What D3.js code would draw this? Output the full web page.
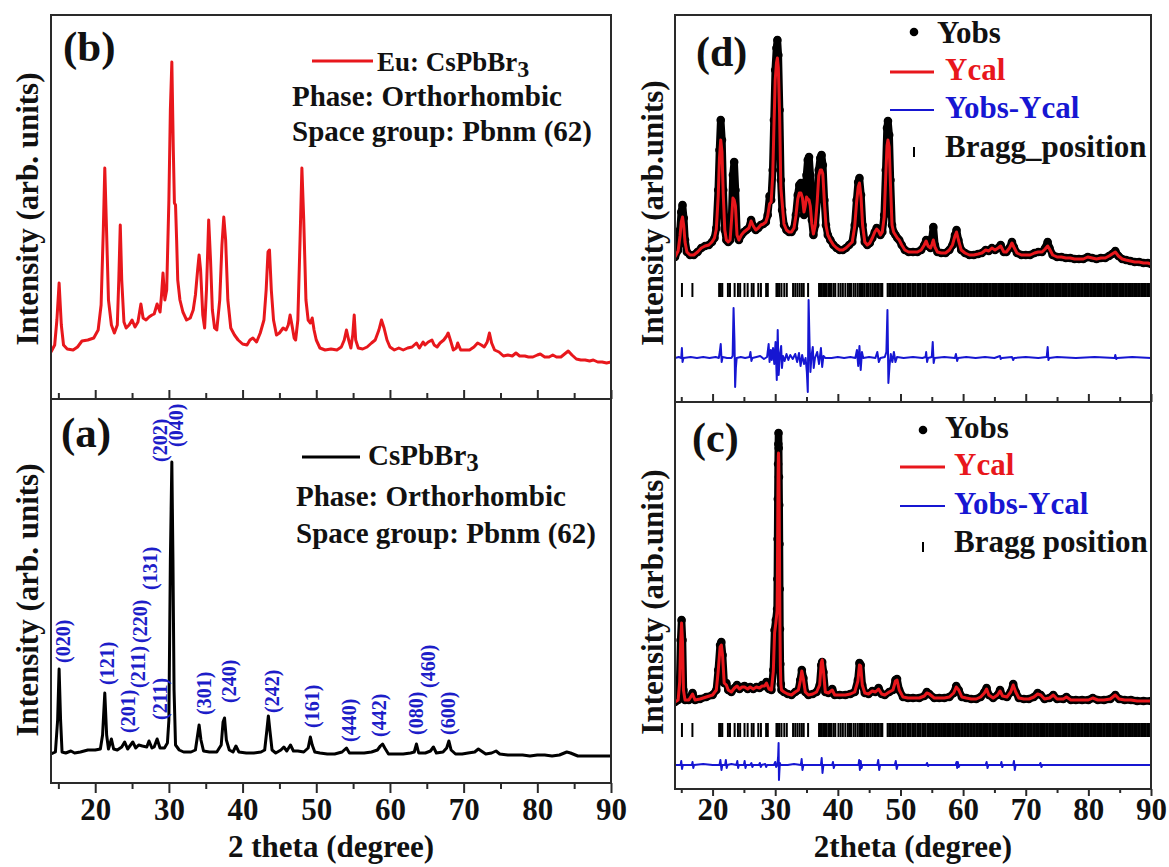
<!DOCTYPE html>
<html>
<head>
<meta charset="utf-8">
<script src="https://cdn.jsdelivr.net/npm/d3@7"></script>
<style>
  html, body { margin: 0; padding: 0; background: #fff; }
  svg text { font-family: "Liberation Serif", "Times New Roman", serif; font-weight: bold; }
</style>
</head>
<body>
<svg id="chart" width="1169" height="867"></svg>
<script>
// ---------------- data (2θ in degrees, intensity in arbitrary units) ----------------

// (b) Eu-doped CsPbBr3 pattern
const euPattern = [
  [14.0,47],[14.5,54],[14.8,79],[15.1,116],[15.4,74],[15.7,54],[16.2,50],[17.0,49],[17.6,52],[18.2,58],
  [19.0,59],[19.8,61],[20.4,69],[20.8,94],[21.1,169],[21.3,231],[21.5,179],[21.8,99],[22.2,74],[22.6,66],
  [23.0,74],[23.2,119],[23.4,174],[23.6,119],[23.9,77],[24.2,71],[24.6,74],[25.0,79],[25.4,72],[25.8,77],
  [26.2,95],[26.5,81],[26.9,79],[27.3,82],[27.7,84],[28.0,85],[28.4,95],[28.8,87],[29.0,104],[29.2,126],
  [29.45,99],[29.7,109],[30.0,199],[30.2,289],[30.4,337],[30.6,249],[30.75,196],[30.9,194],[31.05,159],[31.2,119],
  [31.5,99],[31.9,87],[32.4,79],[32.9,81],[33.3,89],[33.6,104],[33.9,129],[34.1,144],[34.3,129],[34.6,84],
  [34.85,71],[35.1,109],[35.4,179],[35.65,139],[35.9,89],[36.2,71],[36.5,69],[36.9,99],[37.2,154],[37.45,182],
  [37.7,159],[38.0,99],[38.4,71],[38.9,64],[39.4,59],[40.0,55],[40.6,54],[41.0,59],[41.4,61],[41.9,57],
  [42.4,66],[42.9,79],[43.2,109],[43.45,147],[43.65,149],[43.9,109],[44.2,79],[44.6,64],[45.0,66],[45.5,71],
  [45.9,69],[46.2,74],[46.45,84],[46.7,74],[47.0,61],[47.2,59],[47.5,79],[47.8,159],[48.05,231],[48.3,179],
  [48.6,99],[48.9,79],[49.2,76],[49.45,81],[49.7,69],[50.0,59],[50.5,51],[51.2,49],[52.0,50],[52.8,49],
  [53.4,52],[53.8,59],[54.1,69],[54.4,59],[54.7,51],[54.95,64],[55.15,84],[55.35,59],[55.7,51],[56.3,50],
  [56.9,52],[57.5,56],[58.0,59],[58.5,69],[58.85,79],[59.2,71],[59.6,59],[60.0,52],[60.6,49],[61.2,51],
  [61.8,49],[62.4,51],[63.0,52],[63.6,56],[64.0,51],[64.5,57],[64.75,54],[65.2,57],[65.7,59],[66.0,54],
  [66.4,52],[66.8,56],[67.3,59],[67.7,63],[67.9,66],[68.2,59],[68.6,49],[69.0,51],[69.2,56],[69.6,49],
  [70.2,49],[70.8,49],[71.4,52],[71.9,56],[72.4,54],[72.8,52],[73.2,57],[73.5,66],[73.8,56],[74.2,49],
  [74.8,47],[75.4,43],[76.0,44],[76.6,43],[77.1,46],[77.6,43],[78.3,43],[78.8,42],[79.4,42],[80.0,44],
  [80.4,45],[81.0,42],[81.6,42],[82.1,44],[82.6,42],[83.2,42],[83.7,45],[84.2,48],[84.7,44],[85.3,40],
  [85.9,39],[86.5,39],[87.1,38],[87.6,39],[88.2,37],[88.8,37],[89.4,36],[90.0,37]
];

// (a) pristine CsPbBr3 pattern
const csPattern = [
  [14.0,29],[14.6,31],[14.9,63],[15.1,114],[15.3,63],[15.5,31],[16.0,30],[16.7,32],[17.2,30],[18.0,31],
  [19.0,33],[20.0,33],[20.7,34],[21.0,48],[21.3,90],[21.55,48],[21.8,34],[22.2,44],[22.5,34],[23.0,33],
  [23.6,36],[24.0,41],[24.4,34],[25.1,41],[25.5,35],[25.9,38],[26.4,37],[27.0,36],[27.3,42],[27.7,35],
  [28.0,36],[28.4,44],[28.8,35],[29.4,35],[29.8,40],[30.0,63],[30.2,223],[30.4,321],[30.55,223],[30.7,93],
  [30.9,38],[31.4,33],[32.0,31],[33.0,31],[33.6,33],[33.9,48],[34.1,58],[34.35,43],[34.7,32],[35.5,31],
  [36.5,31],[37.1,38],[37.35,61],[37.55,65],[37.8,43],[38.2,33],[38.7,31],[39.1,37],[39.5,31],[40.5,30],
  [41.5,30],[42.5,31],[43.0,33],[43.3,53],[43.5,67],[43.7,53],[44.0,33],[44.5,30],[45.2,33],[45.6,36],
  [46.0,32],[46.5,38],[46.9,32],[47.5,32],[48.3,31],[48.9,35],[49.2,46],[49.45,38],[49.8,31],[50.5,30],
  [51.5,29],[52.5,29],[53.5,31],[54.1,35],[54.5,30],[55.5,30],[56.5,30],[57.5,31],[58.3,33],[58.7,37],
  [59.0,39],[59.3,35],[59.8,29],[60.8,29],[61.8,29],[62.8,30],[63.3,31],[63.6,39],[63.9,30],[64.8,30],
  [65.5,32],[65.9,36],[66.3,30],[67.2,31],[67.7,35],[68.0,42],[68.3,33],[68.9,29],[69.8,29],[70.6,30],
  [71.5,31],[72.0,34],[72.4,32],[73.0,29],[73.8,30],[74.4,32],[74.9,29],[76.0,28],[77.0,28],[78.0,28],
  [79.0,27],[80.0,28],[81.0,28],[82.0,27],[83.0,28],[84.0,31],[84.5,30],[85.5,27],[86.5,27],[87.5,27],
  [88.5,27],[89.3,27],[90.0,27]
];

// Miller indices marked on (a): label, 2θ of the label column, intensity at the label's lower end
const hklNames  = ["(020)","(121)","(201)","(211)","(220)","(131)","(211)","(202)","(040)","(301)","(240)","(242)","(161)","(440)","(442)","(080)","(460)","(600)"];
const hklTheta  = [15.6, 21.6, 24.5, 25.8, 26.1, 27.4, 28.8, 28.8, 30.9, 34.7, 38.2, 44.0, 49.4, 54.5, 58.5, 63.6, 65.2, 67.9];
const hklLevel  = [120, 98, 50, 95, 140, 193, 63, 321, 336, 68, 80, 70, 55, 41, 46, 48, 95, 48];

// (d) Rietveld refinement, Eu: CsPbBr3
const dYobs = [
  [14.0,145],[14.5,152],[14.8,172],[15.0,190],[15.2,197],[15.4,184],[15.6,162],[15.9,150],[16.4,147],[17.0,147],
  [17.6,150],[18.2,154],[18.8,156],[19.4,157],[19.9,160],[20.3,164],[20.6,174],[20.9,212],[21.1,252],[21.3,282],
  [21.5,262],[21.7,212],[21.95,172],[22.2,162],[22.5,160],[22.8,162],[23.05,187],[23.25,227],[23.45,240],[23.65,212],
  [23.9,167],[24.2,162],[24.6,167],[25.0,170],[25.4,172],[25.8,174],[26.15,182],[26.5,176],[26.9,172],[27.3,174],
  [27.7,177],[28.1,178],[28.5,180],[28.8,187],[29.1,206],[29.35,202],[29.6,232],[29.8,282],[30.0,332],[30.2,354],
  [30.35,362],[30.5,347],[30.7,292],[30.9,222],[31.1,192],[31.4,177],[31.8,172],[32.2,170],[32.6,170],[33.0,174],
  [33.3,187],[33.6,207],[33.85,217],[34.1,219],[34.35,207],[34.6,187],[34.8,202],[35.0,227],[35.2,242],[35.4,245],
  [35.6,227],[35.85,182],[36.1,167],[36.4,177],[36.7,202],[36.95,232],[37.2,244],[37.4,247],[37.6,237],[37.85,202],
  [38.1,177],[38.4,167],[38.8,162],[39.3,157],[39.8,154],[40.3,152],[40.8,152],[41.3,154],[41.8,157],[42.3,160],
  [42.7,177],[43.0,202],[43.25,220],[43.45,224],[43.7,207],[43.95,177],[44.3,160],[44.7,157],[45.1,159],[45.5,164],
  [45.9,170],[46.2,174],[46.5,172],[46.8,167],[47.1,170],[47.4,187],[47.65,232],[47.85,274],[48.0,281],[48.2,267],
  [48.4,222],[48.65,177],[48.9,170],[49.2,167],[49.5,164],[49.8,162],[50.2,157],[50.7,152],[51.3,150],[52.0,150],
  [52.7,150],[53.3,152],[53.8,157],[54.1,162],[54.4,156],[54.8,154],[55.05,164],[55.25,175],[55.5,157],[55.9,150],
  [56.5,149],[57.2,149],[57.8,152],[58.3,157],[58.7,167],[58.95,172],[59.25,162],[59.7,152],[60.3,149],[61.0,147],
  [61.7,147],[62.4,148],[63.0,149],[63.6,152],[64.1,151],[64.6,154],[65.1,152],[65.6,154],[66.0,157],[66.5,150],
  [66.9,150],[67.4,154],[67.8,160],[68.1,155],[68.6,149],[69.3,147],[70.0,147],[70.7,147],[71.4,149],[72.0,150],
  [72.6,150],[73.1,154],[73.5,160],[73.8,154],[74.3,147],[75.0,145],[75.7,145],[76.4,144],[77.1,144],[77.8,143],
  [78.5,143],[79.2,143],[79.9,145],[80.6,144],[81.3,143],[82.0,144],[82.7,144],[83.3,146],[83.8,148],[84.3,151],
  [84.8,146],[85.4,143],[86.0,142],[86.7,141],[87.4,140],[88.1,140],[88.8,139],[89.5,139],[90.0,138]
];
const dYcal = [
  [14.0,145],[14.5,151],[14.8,166],[15.0,180],[15.2,185],[15.4,176],[15.6,160],[15.9,150],[16.4,147],[17.0,147],
  [17.6,150],[18.2,154],[18.8,156],[19.4,157],[19.9,160],[20.3,164],[20.6,173],[20.9,206],[21.1,244],[21.3,262],
  [21.5,250],[21.7,208],[21.95,172],[22.2,162],[22.5,160],[22.8,162],[23.05,184],[23.25,204],[23.45,202],[23.65,196],
  [23.9,167],[24.2,162],[24.6,167],[25.0,170],[25.4,172],[25.8,174],[26.15,181],[26.5,176],[26.9,172],[27.3,174],
  [27.7,177],[28.1,178],[28.5,180],[28.8,186],[29.1,198],[29.35,200],[29.6,226],[29.8,276],[30.0,322],[30.2,339],
  [30.35,344],[30.5,334],[30.7,288],[30.9,214],[31.1,200],[31.4,178],[31.8,172],[32.2,170],[32.6,170],[33.0,174],
  [33.3,186],[33.6,203],[33.85,209],[34.1,209],[34.35,204],[34.6,190],[34.8,196],[35.0,205],[35.2,203],[35.4,202],
  [35.6,196],[35.85,178],[36.1,168],[36.4,177],[36.7,200],[36.95,226],[37.2,232],[37.4,232],[37.6,228],[37.85,200],
  [38.1,177],[38.4,167],[38.8,162],[39.3,157],[39.8,154],[40.3,152],[40.8,152],[41.3,154],[41.8,157],[42.3,160],
  [42.7,176],[43.0,200],[43.25,215],[43.45,219],[43.7,205],[43.95,177],[44.3,160],[44.7,157],[45.1,159],[45.5,164],
  [45.9,170],[46.2,173],[46.5,171],[46.8,167],[47.1,170],[47.4,185],[47.65,226],[47.85,256],[48.0,262],[48.2,255],
  [48.4,218],[48.65,177],[48.9,170],[49.2,167],[49.5,164],[49.8,162],[50.2,157],[50.7,152],[51.3,150],[52.0,150],
  [52.7,150],[53.3,152],[53.8,157],[54.1,161],[54.4,156],[54.8,154],[55.05,158],[55.25,162],[55.5,155],[55.9,150],
  [56.5,149],[57.2,149],[57.8,152],[58.3,157],[58.7,166],[58.95,170],[59.25,162],[59.7,152],[60.3,149],[61.0,147],
  [61.7,147],[62.4,148],[63.0,149],[63.6,152],[64.1,151],[64.6,154],[65.1,152],[65.6,154],[66.0,156],[66.5,150],
  [66.9,150],[67.4,154],[67.8,159],[68.1,155],[68.6,149],[69.3,147],[70.0,147],[70.7,147],[71.4,149],[72.0,150],
  [72.6,150],[73.1,153],[73.5,156],[73.8,153],[74.3,147],[75.0,145],[75.7,145],[76.4,144],[77.1,144],[77.8,143],
  [78.5,143],[79.2,143],[79.9,145],[80.6,144],[81.3,143],[82.0,144],[82.7,144],[83.3,146],[83.8,148],[84.3,150],
  [84.8,146],[85.4,143],[86.0,142],[86.7,141],[87.4,140],[88.1,140],[88.8,139],[89.5,139],[90.0,138]
];
const dDiff = [
  [14.0,44],[14.6,45],[15.0,44],[15.1,54],[15.2,40],[15.35,44],[16.5,45],[17.5,44],[18.5,45],[19.5,44],
  [20.5,45],[21.0,44],[21.15,50],[21.3,58],[21.45,40],[21.6,45],[22.3,44],[23.0,44],[23.2,46],[23.35,94],
  [23.5,60],[23.6,15],[23.72,34],[23.85,44],[24.5,45],[25.2,44],[25.9,45],[26.05,50],[26.2,41],[26.35,44],
  [27.0,45],[27.6,46],[28.2,43],[28.7,45],[28.95,58],[29.1,40],[29.3,52],[29.45,42],[29.65,54],[29.85,38],
  [30.05,60],[30.25,22],[30.4,72],[30.55,27],[30.75,47],[30.95,56],[31.08,34],[31.25,46],[31.5,41],[31.8,48],
  [32.1,42],[32.4,47],[32.8,43],[33.2,48],[33.5,40],[33.8,49],[34.05,36],[34.3,47],[34.6,38],[34.85,44],
  [35.05,30],[35.2,10],[35.33,102],[35.48,60],[35.62,30],[35.8,46],[36.0,55],[36.15,34],[36.35,44],[36.7,50],
  [37.0,38],[37.3,54],[37.5,35],[37.7,46],[38.0,44],[39.0,44],[40.0,45],[41.0,44],[42.0,45],[42.8,44],
  [43.05,52],[43.25,36],[43.45,56],[43.65,32],[43.85,50],[44.05,44],[45.0,45],[46.0,44],[46.3,50],[46.55,40],
  [46.8,44],[47.5,45],[47.75,50],[47.92,92],[48.07,19],[48.25,36],[48.45,48],[48.7,40],[48.95,50],[49.2,40],
  [49.45,45],[50.5,44],[52.0,45],[53.5,44],[54.0,45],[54.1,50],[54.25,40],[54.4,44],[55.0,45],[55.15,60],
  [55.3,39],[55.45,44],[57.0,45],[58.7,44],[58.85,48],[59.05,41],[59.2,44],[60.5,45],[62.0,44],[63.5,45],
  [65.0,44],[65.9,46],[66.0,43],[66.2,44],[67.8,45],[68.0,42],[68.15,44],[70.0,45],[72.0,44],[73.35,45],
  [73.5,55],[73.62,42],[73.75,44],[75.0,45],[78.0,44],[81.0,45],[84.2,44],[84.3,47],[84.45,43],[84.6,44],
  [87.0,45],[90.0,44]
];

// (c) Rietveld refinement, CsPbBr3
const cYobs = [
  [14.0,87],[14.5,89],[14.75,109],[14.9,149],[15.05,169],[15.2,149],[15.35,99],[15.6,89],[16.2,89],[16.8,96],
  [17.2,89],[18.0,90],[19.0,92],[20.0,94],[20.6,99],[20.9,119],[21.2,144],[21.4,147],[21.6,134],[21.85,106],
  [22.2,106],[22.5,99],[23.0,97],[23.5,101],[23.9,104],[24.3,100],[24.7,102],[25.1,103],[25.6,100],[26.0,102],
  [26.5,100],[27.0,102],[27.5,101],[27.9,104],[28.3,103],[28.6,107],[29.0,100],[29.4,99],[29.7,119],[29.9,159],
  [30.1,169],[30.3,180],[30.34,210],[30.38,250],[30.42,290],[30.46,325],[30.5,345],[30.53,356],[30.56,341],[30.6,312],
  [30.64,284],[30.68,245],[30.72,200],[30.76,160],[30.82,125],[30.9,105],[31.0,99],[31.4,97],[32.0,95],[32.6,94],
  [33.2,97],[33.7,99],[34.0,109],[34.25,119],[34.5,111],[34.8,97],[35.3,94],[36.0,95],[36.6,97],[37.1,104],
  [37.35,124],[37.5,127],[37.7,117],[38.0,97],[38.5,96],[39.1,100],[39.5,94],[40.3,94],[41.2,94],[42.0,95],
  [42.7,97],[43.2,109],[43.45,126],[43.65,124],[43.9,104],[44.3,96],[44.9,95],[45.5,98],[46.0,97],[46.5,101],
  [47.0,95],[47.5,94],[48.2,97],[48.8,99],[49.2,109],[49.45,110],[49.8,99],[50.4,92],[51.2,91],[52.0,91],
  [53.0,91],[53.8,93],[54.2,97],[54.6,95],[55.4,91],[56.2,91],[57.0,91],[57.8,92],[58.5,96],[58.9,103],
  [59.3,99],[59.8,92],[60.5,91],[61.3,90],[62.1,90],[62.8,92],[63.4,97],[63.75,101],[64.1,94],[64.8,91],
  [65.5,94],[65.9,99],[66.3,93],[67.0,92],[67.6,97],[68.0,105],[68.4,97],[68.9,91],[69.7,90],[70.5,90],
  [71.3,92],[71.9,96],[72.4,94],[73.0,90],[73.8,91],[74.4,94],[75.0,90],[76.0,90],[76.5,92],[77.2,89],
  [78.0,89],[79.0,89],[80.0,89],[80.7,91],[81.5,89],[82.5,89],[83.5,90],[84.3,94],[84.9,90],[85.8,89],
  [86.8,89],[87.8,88],[88.8,88],[90.0,88]
];
const cYcal = [
  [14.0,87],[14.5,89],[14.75,107],[14.9,146],[15.05,166],[15.2,147],[15.35,99],[15.6,89],[16.2,89],[16.8,95],
  [17.2,89],[18.0,90],[19.0,92],[20.0,94],[20.6,99],[20.9,118],[21.2,142],[21.4,144],[21.6,133],[21.85,106],
  [22.2,104],[22.5,99],[23.0,97],[23.5,101],[23.9,103],[24.3,100],[24.7,102],[25.1,102],[25.6,100],[26.0,102],
  [26.5,100],[27.0,102],[27.5,101],[27.9,103],[28.3,103],[28.6,106],[29.0,100],[29.4,99],[29.7,118],[29.9,156],
  [30.1,166],[30.3,178],[30.34,205],[30.38,244],[30.42,284],[30.46,316],[30.5,332],[30.53,336],[30.56,330],[30.6,305],
  [30.64,276],[30.68,240],[30.72,196],[30.76,158],[30.82,124],[30.9,105],[31.0,99],[31.4,97],[32.0,95],[32.6,94],
  [33.2,97],[33.7,99],[34.0,108],[34.25,118],[34.5,110],[34.8,97],[35.3,94],[36.0,95],[36.6,97],[37.1,104],
  [37.35,126],[37.5,129],[37.7,118],[38.0,97],[38.5,96],[39.1,99],[39.5,94],[40.3,94],[41.2,94],[42.0,95],
  [42.7,97],[43.2,108],[43.45,124],[43.65,123],[43.9,104],[44.3,96],[44.9,95],[45.5,98],[46.0,97],[46.5,100],
  [47.0,95],[47.5,94],[48.2,97],[48.8,99],[49.2,108],[49.45,109],[49.8,99],[50.4,92],[51.2,91],[52.0,91],
  [53.0,91],[53.8,93],[54.2,96],[54.6,95],[55.4,91],[56.2,91],[57.0,91],[57.8,92],[58.5,96],[58.9,102],
  [59.3,99],[59.8,92],[60.5,91],[61.3,90],[62.1,90],[62.8,92],[63.4,96],[63.75,100],[64.1,94],[64.8,91],
  [65.5,94],[65.9,98],[66.3,93],[67.0,92],[67.6,97],[68.0,104],[68.4,97],[68.9,91],[69.7,90],[70.5,90],
  [71.3,92],[71.9,95],[72.4,94],[73.0,90],[73.8,91],[74.4,94],[75.0,90],[76.0,90],[76.5,92],[77.2,89],
  [78.0,89],[79.0,89],[80.0,89],[80.7,91],[81.5,89],[82.5,89],[83.5,90],[84.3,94],[84.9,90],[85.8,89],
  [86.8,89],[87.8,88],[88.8,88],[90.0,88]
];
const cDiff = [
  [14.0,24],[14.9,24],[15.0,28],[15.12,20],[15.25,24],[16.7,24],[16.8,27],[16.92,21],[17.05,24],[18.5,25],
  [20.0,24],[21.1,24],[21.25,29],[21.42,19],[21.55,24],[22.0,24],[22.12,29],[22.25,21],[22.38,24],[23.0,25],
  [23.8,24],[23.95,28],[24.08,21],[24.2,24],[25.0,24],[25.12,28],[25.25,21],[25.38,24],[26.0,24],[26.2,26],
  [26.35,22],[26.5,24],[27.4,24],[27.55,26],[27.7,22],[27.85,24],[28.4,25],[28.55,22],[28.7,24],[29.8,24],
  [30.0,27],[30.15,22],[30.35,24],[30.47,33],[30.54,46],[30.6,9],[30.67,18],[30.75,26],[30.85,24],[32.0,24],
  [33.0,25],[34.1,24],[34.22,30],[34.35,19],[34.5,24],[36.5,24],[37.3,24],[37.42,31],[37.55,16],[37.7,24],
  [38.0,24],[39.1,24],[39.22,27],[39.35,21],[39.5,24],[42.0,24],[43.3,24],[43.4,29],[43.52,19],[43.65,28],
  [43.78,21],[43.9,24],[46.3,24],[46.45,29],[46.6,19],[46.75,24],[49.1,24],[49.25,28],[49.4,20],[49.55,24],
  [52.0,24],[54.1,24],[54.25,26],[54.4,23],[54.55,24],[58.8,24],[58.95,27],[59.05,21],[59.15,27],[59.3,22],
  [59.45,24],[63.6,24],[63.75,27],[63.9,21],[64.05,24],[66.0,24],[66.12,27],[66.25,22],[66.38,24],[68.0,24],
  [68.12,28],[68.25,19],[68.38,24],[72.2,24],[72.35,26],[72.5,22],[72.65,24],[76.0,24],[80.0,24],[85.0,24],
  [90.0,24]
];

// Bragg reflection positions (2θ) of orthorhombic Pbnm CsPbBr3
const braggPos = [
  15.11,16.78,21.05,21.32,21.55,22.45,22.78,23.52,24.05,24.4,25.1,25.6,26.25,26.55,27.3,27.72,28.55,28.82,
  30.2,30.42,30.65,31.0,31.45,31.85,32.85,33.2,33.55,33.9,34.25,34.55,35.25,37.0,37.2,37.45,37.7,37.95,38.2,
  38.5,38.75,39.0,39.35,39.6,40.1,40.45,40.8,41.2,41.6,41.85,42.1,42.5,42.8,43.15,43.45,43.7,44.0,44.3,44.65,
  44.9,45.2,45.5,45.8,46.05,46.3,46.55,46.9,47.1,47.95,48.2,48.45,48.7,48.95,49.2,49.5,49.75,50.0,50.3,50.55,
  50.8,51.1,51.35,51.6,51.9,52.15,52.4,52.7,52.95,53.2,53.5,53.75,54.0,54.3,54.55,54.8,55.05,55.3,55.55,55.8,
  56.05,56.3,56.55,56.8,57.0,57.25,57.5,57.75,58.0,58.25,58.5,58.75,59.0,59.2,59.45,59.7,59.95,60.2,60.4,
  60.65,60.9,61.15,61.35,61.6,61.85,62.1,62.3,62.55,62.8,63.0,63.25,63.5,63.7,63.95,64.2,64.4,64.65,64.9,
  65.1,65.35,65.6,65.8,66.05,66.3,66.5,66.75,67.0,67.2,67.45,67.7,67.9,68.15,68.4,68.6,68.85,69.1,69.3,
  69.55,69.8,70.0,70.25,70.5,70.7,70.95,71.2,71.4,71.65,71.9,72.1,72.35,72.6,72.8,73.05,73.3,73.5,73.75,
  74.0,74.2,74.45,74.7,74.9,75.15,75.4,75.6,75.85,76.1,76.3,76.55,76.8,77.0,77.25,77.5,77.7,77.95,78.2,
  78.4,78.65,78.9,79.1,79.35,79.6,79.8,80.05,80.3,80.5,80.75,81.0,81.2,81.45,81.7,81.9,82.15,82.4,82.6,
  82.85,83.1,83.3,83.55,83.8,84.0,84.25,84.5,84.7,84.95,85.2,85.4,85.65,85.9,86.1,86.35,86.6,86.8,87.05,
  87.3,87.5,87.75,88.0,88.2,88.45,88.7,88.9,89.15,89.4,89.6,89.85
];

// axis ticks
const twoThetaDomain = [14, 90];
const majorTicks = [20, 30, 40, 50, 60, 70, 80, 90];
const minorTicks = [15, 25, 35, 45, 55, 65, 75, 85];

// ---------------- drawing ----------------
const RED = "#e8171c", BLUE = "#1616d2", HKL_BLUE = "#1d1dc8", INK = "#111";
const svg = d3.select("#chart");

function panel(id, left, right, top, bottom) {
  const x = d3.scaleLinear(twoThetaDomain, [left, right]);
  const y = d3.scaleLinear([0, bottom - top], [bottom, top]);
  svg.append("clipPath").attr("id", "clip-" + id)
    .append("rect").attr("x", left).attr("y", top).attr("width", right - left).attr("height", bottom - top);
  const g = svg.append("g").attr("clip-path", `url(#clip-${id})`);
  return { x, y, g, left, right, top, bottom };
}

function frame(p) {
  svg.append("rect").attr("x", p.left).attr("y", p.top)
    .attr("width", p.right - p.left).attr("height", p.bottom - p.top)
    .attr("fill", "none").attr("stroke", "#2a2a2a").attr("stroke-width", 2);
}

function ticks(p, majorLen, minorLen, withLabels, pad) {
  const styleAxis = (sel) => {
    sel.select(".domain").remove();
    sel.selectAll(".tick line").attr("stroke", "#2a2a2a").attr("stroke-width", 2);
  };
  const maj = d3.axisBottom(p.x).tickValues(majorTicks).tickSize(majorLen).tickPadding(pad || 3);
  if (!withLabels) maj.tickFormat("");
  const gm = svg.append("g").attr("transform", `translate(0,${p.bottom})`).call(maj).call(styleAxis);
  gm.selectAll("text").attr("font-size", 31).attr("fill", INK)
    .attr("font-family", "'Liberation Serif','Times New Roman',serif").attr("font-weight", "bold");
  const mn = d3.axisBottom(p.x).tickValues(minorTicks).tickSize(minorLen).tickFormat("");
  svg.append("g").attr("transform", `translate(0,${p.bottom})`).call(mn).call(styleAxis);
}

function text(x, y, str, size, color, anchor) {
  return svg.append("text").attr("x", x).attr("y", y).attr("font-size", size)
    .attr("fill", color || INK).attr("text-anchor", anchor || "start").text(str);
}

function yTitle(x, cy, str) {
  svg.append("text").attr("transform", `translate(${x},${cy}) rotate(-90)`)
    .attr("text-anchor", "middle").attr("font-size", 31).attr("fill", INK).text(str);
}

const line = (p) => d3.line().x(d => p.x(d[0])).y(d => p.y(d[1]));

// ----- (b) Eu: CsPbBr3 -----
const pb = panel("b", 51, 611, 15, 399);
pb.g.append("path").datum(euPattern).attr("d", line(pb))
  .attr("fill", "none").attr("stroke", RED).attr("stroke-width", 3).attr("stroke-linejoin", "round");
ticks(pb, -9, -6, false);
frame(pb);

// ----- (a) CsPbBr3 -----
const pa = panel("a", 51, 611, 399, 783);
pa.g.append("path").datum(csPattern).attr("d", line(pa))
  .attr("fill", "none").attr("stroke", "#000").attr("stroke-width", 3).attr("stroke-linejoin", "round");
hklNames.forEach((name, i) => {
  const px = pa.x(hklTheta[i]) + 7, py = pa.y(hklLevel[i]);
  svg.append("text").attr("transform", `translate(${px},${py}) rotate(-90)`)
    .attr("font-size", 20).attr("fill", HKL_BLUE).text(name);
});
ticks(pa, 10, 6, true, 5);
frame(pa);

// ----- (d) refinement of Eu: CsPbBr3 -----
const pd = panel("d", 675, 1151, 15, 402);
// ----- (c) refinement of CsPbBr3 -----
const pc = panel("c", 675, 1151, 402, 789);

function refinement(p, obs, cal, diff, tickTop, tickBottom) {
  p.g.selectAll("line.bragg").data(braggPos).join("line").attr("class", "bragg")
    .attr("x1", d => p.x(d)).attr("x2", d => p.x(d))
    .attr("y1", p.y(tickTop)).attr("y2", p.y(tickBottom))
    .attr("stroke", "#000").attr("stroke-width", 2);
  p.g.append("path").datum(diff).attr("d", line(p))
    .attr("fill", "none").attr("stroke", BLUE).attr("stroke-width", 2).attr("stroke-linejoin", "round");
  // densely sampled observed points merge into a continuous band
  p.g.append("path").datum(obs).attr("d", line(p))
    .attr("fill", "none").attr("stroke", "#000").attr("stroke-width", 7.5)
    .attr("stroke-linejoin", "round").attr("stroke-linecap", "round");
  p.g.selectAll("circle.obs").data(obs).join("circle").attr("class", "obs")
    .attr("cx", d => p.x(d[0])).attr("cy", d => p.y(d[1])).attr("r", 4.3).attr("fill", "#000");
  p.g.append("path").datum(cal).attr("d", line(p))
    .attr("fill", "none").attr("stroke", RED).attr("stroke-width", 3).attr("stroke-linejoin", "round");
}
refinement(pd, dYobs, dYcal, dDiff, 119, 105);
refinement(pc, cYobs, cYcal, cDiff, 66, 52);
ticks(pd, -8, -5, false);
ticks(pc, 7, 4, true, 2);
frame(pd);
frame(pc);

// ---------------- labels and legends ----------------
text(63, 61, "(b)", 43);
text(61, 447, "(a)", 43);
text(696, 66, "(d)", 42);
text(692, 452, "(c)", 42);

// (b) legend
svg.append("line").attr("x1", 312).attr("x2", 373).attr("y1", 61).attr("y2", 61).attr("stroke", RED).attr("stroke-width", 3);
const tb = text(377, 71, "Eu: CsPbBr", 27);
tb.append("tspan").attr("dy", 6).attr("font-size", 24).text("3");
text(292, 106, "Phase: Orthorhombic", 29);
text(292, 141, "Space group: Pbnm (62)", 29);

// (a) legend
svg.append("line").attr("x1", 302).attr("x2", 360).attr("y1", 457).attr("y2", 457).attr("stroke", "#000").attr("stroke-width", 3);
const ta = text(368, 465, "CsPbBr", 29);
ta.append("tspan").attr("dy", 6).attr("font-size", 25).text("3");
text(296, 506, "Phase: Orthorhombic", 29);
text(296, 543, "Space group: Pbnm (62)", 29);

// refinement legends
function refLegend(dotX, dotY, lineX1, lineX2, textX, yobsX, rows, braggLabel) {
  svg.append("circle").attr("cx", dotX).attr("cy", dotY).attr("r", 4.3).attr("fill", "#000");
  text(yobsX, rows[0], "Yobs", 31);
  svg.append("line").attr("x1", lineX1).attr("x2", lineX2).attr("y1", rows[1] - 8).attr("y2", rows[1] - 8).attr("stroke", RED).attr("stroke-width", 3);
  text(textX, rows[1], "Ycal", 31, RED);
  svg.append("line").attr("x1", lineX1).attr("x2", lineX2).attr("y1", rows[2] - 8).attr("y2", rows[2] - 8).attr("stroke", BLUE).attr("stroke-width", 2);
  text(textX, rows[2], "Yobs-Ycal", 31, BLUE);
  svg.append("line").attr("x1", dotX).attr("x2", dotX).attr("y1", rows[3] - 10).attr("y2", rows[3]).attr("stroke", "#000").attr("stroke-width", 2);
  text(textX, rows[3], braggLabel, 31);
}
refLegend(914, 32, 890, 934, 945, 937, [43, 80, 118, 157], "Bragg_position");
refLegend(923, 430, 900, 945, 954, 945, [438, 475, 514, 552], "Bragg position");

// axis titles
yTitle(38, 209, "Intensity (arb. units)");
yTitle(38, 600, "Intensity (arb. units)");
yTitle(663, 213, "Intensity (arb.units)");
yTitle(663, 602, "Intensity (arb.units)");
text(331, 857, "2 theta (degree)", 31, INK, "middle");
text(913, 857, "2theta (degree)", 31, INK, "middle");
</script>
</body>
</html>
